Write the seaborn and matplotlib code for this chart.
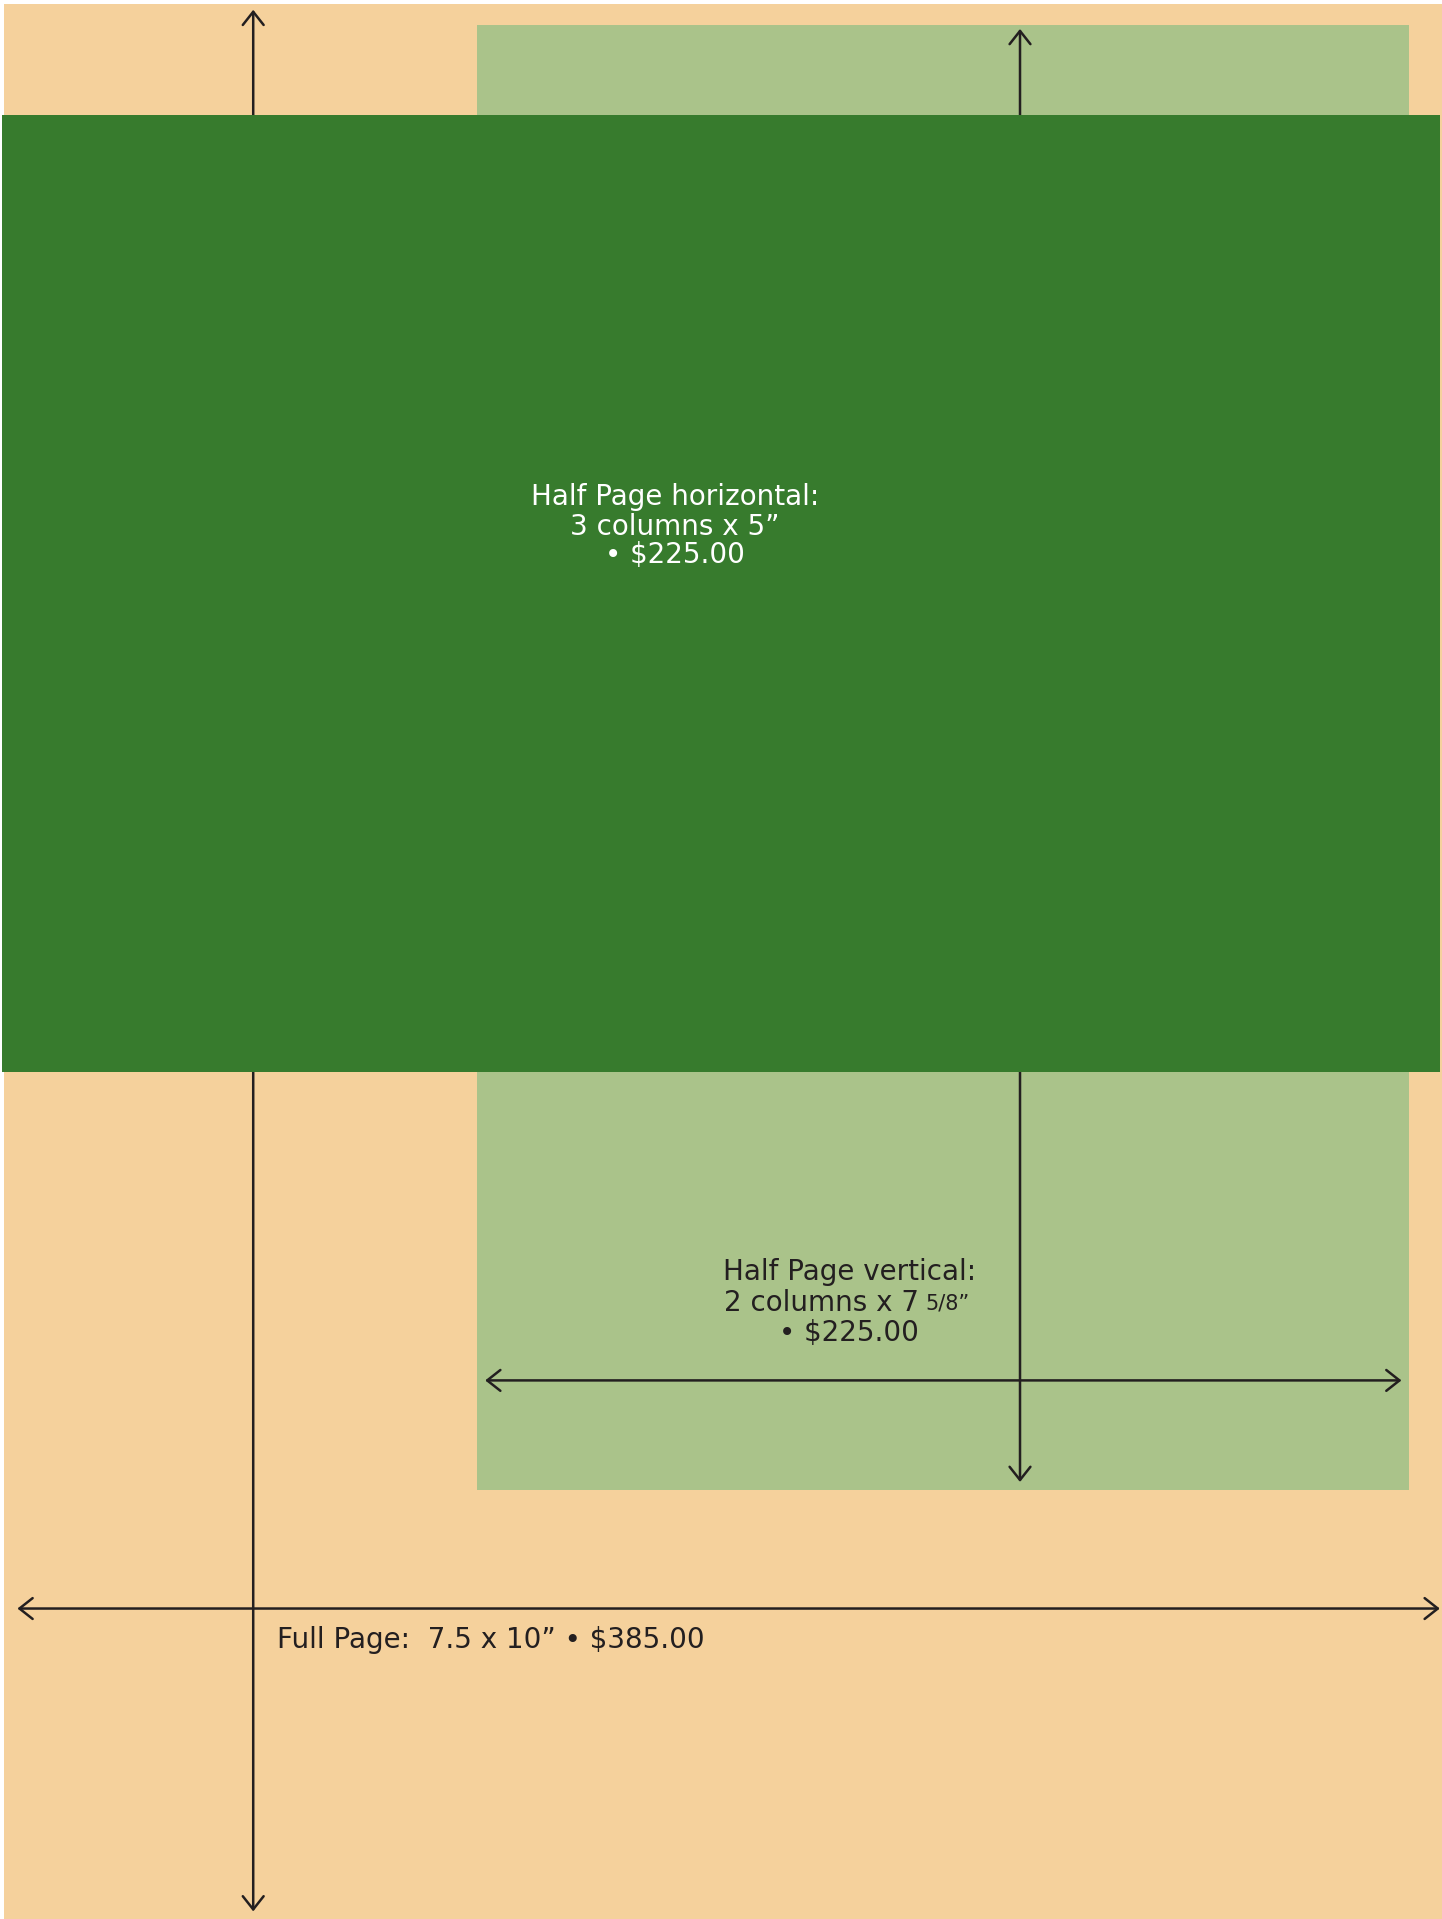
import matplotlib
matplotlib.use("Agg")
import matplotlib.pyplot as plt
import seaborn as sns

# Ad sizes on a 7.5 x 10 inch page (inches, measured from top-left of the page)
ad_names = ["Full Page", "Half Page vertical", "Half Page horizontal"]
ad_left = [0.0, 2.47, -0.01]
ad_top = [0.0, 0.11, 0.58]
ad_width = [7.5, 4.86, 7.50]
ad_height = [10.0, 7.64, 4.99]
ad_colors = ["#F5D19C", "#AAC38A", "#377B2D"]

# Dimension arrows: (x0, y0, x1, y1)
arrow_full_w = (0.07, 8.37, 7.49, 8.37)
arrow_full_h = (1.30, 0.03, 1.30, 9.95)
arrow_half_w = (2.51, 7.18, 7.29, 7.18)
arrow_half_h = (5.30, 0.13, 5.30, 7.71)

# Labels
horiz_lines = ["Half Page horizontal:", "3 columns x 5\u201d", "\u2022 $225.00"]
vert_lines = ["Half Page vertical:", "2 columns x 7", "\u2022 $225.00"]
vert_frac = "5/8\u201d"
full_label = "Full Page:  7.5 x 10\u201d \u2022 $385.00"

sns.set_theme(style="white")
plt.rcParams["font.family"] = ["DejaVu Sans"]

px_per_in = 191.7
fig = plt.figure(figsize=(14.42, 19.19), dpi=100)
fig.patch.set_facecolor("white")
ax = fig.add_axes([0, 0, 1, 1])
ax.set_xlim(-4 / px_per_in, 1438 / px_per_in)
ax.set_ylim(1915 / px_per_in, -4 / px_per_in)
ax.axis("off")

# page and ad blocks as bars
zorders = [1, 2, 4]
for i in range(len(ad_names)):
    ax.bar(ad_left[i], ad_height[i], width=ad_width[i], bottom=ad_top[i],
           align="edge", color=ad_colors[i], linewidth=0, zorder=zorders[i])

line_col = "#231F20"
arrow_style = "<->,head_length=0.95,head_width=0.75"
for a in [arrow_full_w, arrow_full_h, arrow_half_w, arrow_half_h]:
    ax.annotate("", xy=(a[2], a[3]), xytext=(a[0], a[1]),
                arrowprops=dict(arrowstyle=arrow_style, color=line_col, lw=1.8,
                                shrinkA=0, shrinkB=0, mutation_scale=10),
                zorder=3)

fs = 20
# Half page horizontal text
hy = [2.572, 2.727, 2.874]
for txt, y in zip(horiz_lines, hy):
    ax.text(3.50, y, txt, color="white", fontsize=fs, ha="center", va="center", zorder=5)

# Half page vertical text
vy = [6.615, 6.776, 6.935]
ax.text(4.41, vy[0], vert_lines[0], color=line_col, fontsize=fs, ha="center", va="center", zorder=5)
ax.text(4.775, vy[1], vert_lines[1], color=line_col, fontsize=fs, ha="right", va="center", zorder=5)
ax.text(4.805, vy[1] + 0.005, vert_frac, color=line_col, fontsize=fs * 0.75, ha="left", va="center", zorder=5)
ax.text(4.41, vy[2], vert_lines[2], color=line_col, fontsize=fs, ha="center", va="center", zorder=5)

# Full page text
ax.text(1.424, 8.534, full_label, color=line_col, fontsize=fs, ha="left", va="center", zorder=5)

fig.savefig("out.png", dpi=100, facecolor="white")
